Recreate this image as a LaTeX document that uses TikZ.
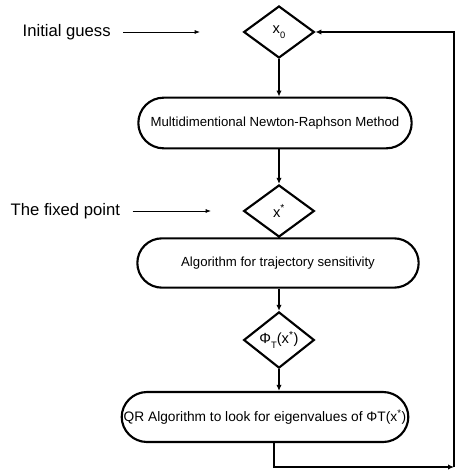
\documentclass[tikz,border=0pt]{standalone}
\usepackage{fontspec}
\setmainfont{Liberation Sans}
\usepackage{tikz}
\usetikzlibrary{shapes.geometric}
\usetikzlibrary{arrows.meta}
\usetikzlibrary{positioning}
\tikzstyle{decide}=[diamond,draw=black,line width=1.6pt,inner sep=0mm,minimum width=53pt,minimum height=39pt,font=\fontsize{11}{12}\selectfont]
\tikzstyle{process}=[rectangle,draw=black,line width=1.6pt,inner sep=0mm,minimum height=38pt,rounded corners=19pt,font=\fontsize{9.9}{11}\selectfont]
\tikzstyle{note}=[inner sep=0mm,font=\fontsize{12.5}{14}\selectfont]
\tikzstyle{flow}=[-{Latex[length=4.5pt,width=4pt]},line width=1.5pt]
\tikzstyle{pointer}=[-{Latex[length=4pt,width=3pt]},line width=0.6pt]
\tikzset{every picture/.style={
    line width=1
  }
}

\begin{document}
\begin{tikzpicture}[x=0.75pt,y=-0.75pt]
        \useasboundingbox (0,0) rectangle (455,473);
        \node[decide] at (279,32) (x0) {x\raisebox{-.6ex}{\scriptsize 0}};
        \node[process,minimum width=205pt] at (275,123) (nr) {Multidimentional Newton-Raphson Method};
        \node[decide] at (279,211) (xs) {x\textsuperscript{*}};
        \node[process,minimum width=211pt,minimum height=37pt,rounded corners=18.5pt] at (278,263) (ts) {Algorithm for trajectory sensitivity};
        \node[decide] at (279,340) (phi) {Φ\raisebox{-.6ex}{\scriptsize T}(x\textsuperscript{*})};
        \node[process,minimum width=215pt,minimum height=37.5pt,font=\fontsize{10.3}{11}\selectfont] at (265,417) (qr) {QR Algorithm to look for eigenvalues of ΦT(x\textsuperscript{*})};
        \node[note,anchor=west] at (22,32) (guess) {Initial guess};
        \node[note,anchor=west] at (10,211) (fixed) {The fixed point};
        \coordinate (g1) at (200,32);
        \coordinate (f1) at (211,211);
        \coordinate (ret) at (454,467);
        \draw[pointer] ([xshift=9pt]guess.east) -- (g1);
        \draw[pointer] ([xshift=9pt]fixed.east) -- (f1);
        \draw[flow] (x0.south) -- (x0.south |- nr.north);
        \draw[flow] (x0.south |- nr.south) -- (xs.north);
        \draw[line width=1.5pt] (xs.south) -- (xs.south |- ts.north);
        \draw[flow] (xs.south |- ts.south) -- (phi.north);
        \draw[flow] (phi.south) -- (phi.south |- qr.north);
        \draw[flow] ([xshift=7pt]qr.south) |- (ret);
        \draw[flow] (ret) |- (x0.east);
      \end{tikzpicture}
\end{document}
